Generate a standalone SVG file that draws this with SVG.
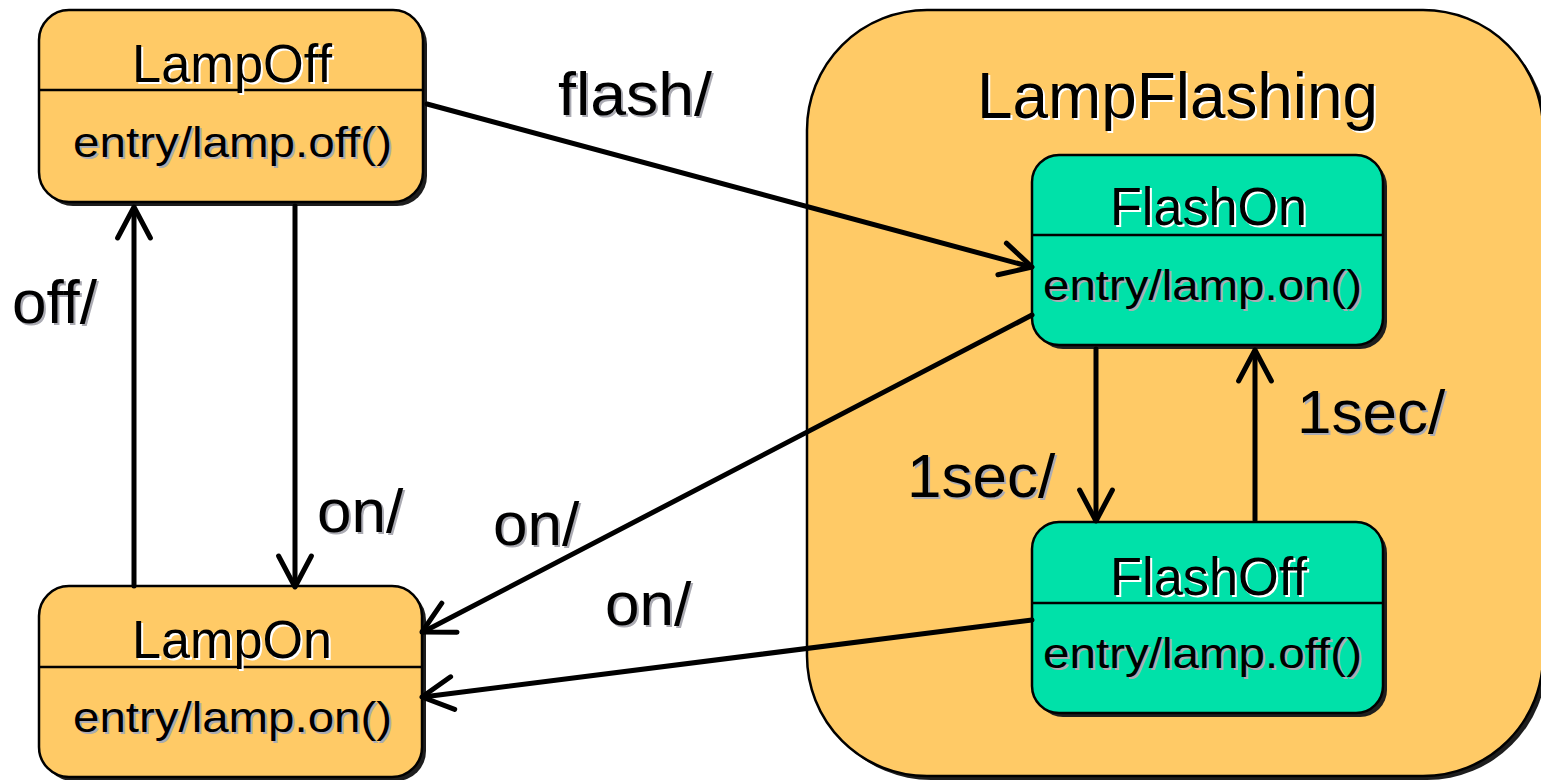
<svg xmlns="http://www.w3.org/2000/svg" width="1541" height="780" viewBox="0 0 1541 780">
<style>
text{font-family:"Liberation Sans",Arial,sans-serif;}
.box{stroke:#000;stroke-width:2.5;}
.org{fill:#FFCA66;}
.teal{fill:#00E1A9;}
.shadow{fill:#1e1e1e;}
.div{stroke:#000;stroke-width:2.5;}
.title{font-size:53px;}
.body{font-size:42px;}
.lbl{font-size:62px;}
.ws{fill:#fff;}
.gs{fill:#ababb3;}
.ink{fill:#000;}
.edge{stroke:#000;stroke-width:5;fill:none;stroke-linecap:round;stroke-linejoin:round;}
</style>
<rect width="1541" height="780" fill="#fff"/>

<g id="LampFlashing">
  <rect class="shadow" x="811" y="14" width="736" height="766" rx="120"/>
  <rect class="box org" x="807" y="10" width="736" height="766" rx="120"/>
  <text class="ws" x="979" y="120" font-size="64" textLength="401" lengthAdjust="spacingAndGlyphs">LampFlashing</text>
  <text class="ink" x="977" y="118" font-size="64" textLength="401" lengthAdjust="spacingAndGlyphs">LampFlashing</text>
</g>

<g id="LampOff">
  <rect class="shadow" x="43" y="14" width="384" height="192" rx="30"/>
  <rect class="box org" x="39" y="10" width="384" height="192" rx="30"/>
  <line class="div" x1="39" y1="90" x2="423" y2="90"/>
  <text class="title ws" x="134" y="84" textLength="200" lengthAdjust="spacingAndGlyphs">LampOff</text>
  <text class="title ink" x="132" y="82" textLength="200" lengthAdjust="spacingAndGlyphs">LampOff</text>
  <text class="body gs" x="75" y="159" textLength="319" lengthAdjust="spacingAndGlyphs">entry/lamp.off()</text>
  <text class="body ink" x="73" y="157" textLength="319" lengthAdjust="spacingAndGlyphs">entry/lamp.off()</text>
</g>

<g id="LampOn">
  <rect class="shadow" x="43" y="590" width="383" height="191" rx="30"/>
  <rect class="box org" x="39" y="586" width="383" height="191" rx="30"/>
  <line class="div" x1="39" y1="667" x2="422" y2="667"/>
  <text class="title ws" x="134" y="660" textLength="200" lengthAdjust="spacingAndGlyphs">LampOn</text>
  <text class="title ink" x="132" y="658" textLength="200" lengthAdjust="spacingAndGlyphs">LampOn</text>
  <text class="body gs" x="75" y="734" textLength="319" lengthAdjust="spacingAndGlyphs">entry/lamp.on()</text>
  <text class="body ink" x="73" y="732" textLength="319" lengthAdjust="spacingAndGlyphs">entry/lamp.on()</text>
</g>

<g id="FlashOn">
  <rect class="shadow" x="1036" y="159" width="351" height="190" rx="27"/>
  <rect class="box teal" x="1032" y="155" width="351" height="190" rx="27"/>
  <line class="div" x1="1032" y1="235" x2="1383" y2="235"/>
  <text class="title ws" x="1112" y="227" textLength="197" lengthAdjust="spacingAndGlyphs">FlashOn</text>
  <text class="title ink" x="1110" y="225" textLength="197" lengthAdjust="spacingAndGlyphs">FlashOn</text>
  <text class="body gs" x="1045" y="302" textLength="319" lengthAdjust="spacingAndGlyphs">entry/lamp.on()</text>
  <text class="body ink" x="1043" y="300" textLength="319" lengthAdjust="spacingAndGlyphs">entry/lamp.on()</text>
</g>

<g id="FlashOff">
  <rect class="shadow" x="1036" y="526" width="351" height="191" rx="27"/>
  <rect class="box teal" x="1032" y="522" width="351" height="191" rx="27"/>
  <line class="div" x1="1032" y1="603" x2="1383" y2="603"/>
  <text class="title ws" x="1112" y="597" textLength="197" lengthAdjust="spacingAndGlyphs">FlashOff</text>
  <text class="title ink" x="1110" y="595" textLength="197" lengthAdjust="spacingAndGlyphs">FlashOff</text>
  <text class="body gs" x="1045" y="670" textLength="319" lengthAdjust="spacingAndGlyphs">entry/lamp.off()</text>
  <text class="body ink" x="1043" y="668" textLength="319" lengthAdjust="spacingAndGlyphs">entry/lamp.off()</text>
</g>

<g id="connectors">
  <line class="edge" x1="427" y1="104" x2="1031" y2="267"/>
  <polyline class="edge" points="1006.4,243.1 1032,267 997.9,274.8"/>
  <line class="edge" x1="295" y1="206" x2="295" y2="586"/>
  <polyline class="edge" points="278.6,556 295,587 311.4,556"/>
  <line class="edge" x1="134" y1="586" x2="134" y2="208"/>
  <polyline class="edge" points="117.6,238 134,207 150.4,238"/>
  <line class="edge" x1="1032" y1="315" x2="423" y2="632"/>
  <polyline class="edge" points="457,632.3 422,632 441.8,603.2"/>
  <line class="edge" x1="1032" y1="620" x2="423" y2="697"/>
  <polyline class="edge" points="454.7,709.4 422,697 450.6,676.8"/>
  <line class="edge" x1="1096" y1="349" x2="1096" y2="520"/>
  <polyline class="edge" points="1079.6,490 1096,521 1112.4,490"/>
  <line class="edge" x1="1255" y1="520" x2="1255" y2="351"/>
  <polyline class="edge" points="1238.6,381 1255,350 1271.4,381"/>

  <g class="lbl">
    <text class="gs" x="560" y="117" textLength="154" lengthAdjust="spacingAndGlyphs">flash/</text>
    <text class="ink" x="558" y="115" textLength="154" lengthAdjust="spacingAndGlyphs">flash/</text>
    <text class="gs" x="14" y="325">off/</text>
    <text class="ink" x="12" y="323">off/</text>
    <text class="gs" x="319" y="534">on/</text>
    <text class="ink" x="317" y="532">on/</text>
    <text class="gs" x="495" y="547">on/</text>
    <text class="ink" x="493" y="545">on/</text>
    <text class="gs" x="607" y="627">on/</text>
    <text class="ink" x="605" y="625">on/</text>
    <text class="gs" x="909" y="499">1sec/</text>
    <text class="ink" x="907" y="497">1sec/</text>
    <text class="gs" x="1299" y="435">1sec/</text>
    <text class="ink" x="1297" y="433">1sec/</text>
  </g>
</g>
</svg>
